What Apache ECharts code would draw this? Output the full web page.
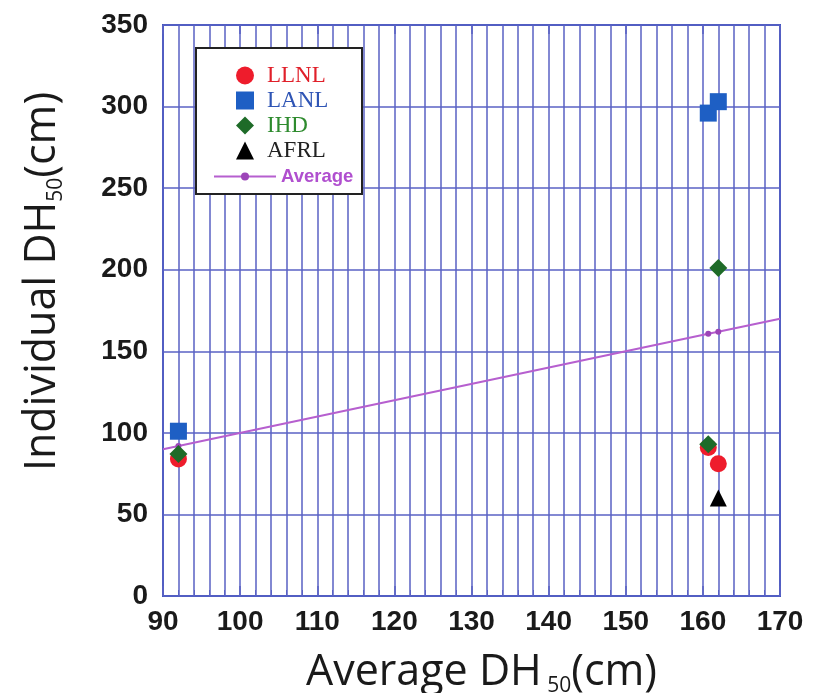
<!DOCTYPE html>
<html>
<head>
<meta charset="utf-8">
<script src="https://cdn.jsdelivr.net/npm/echarts@6/dist/echarts.min.js"></script>
<style>
html,body{margin:0;padding:0;background:#fff;}
#chart{width:817px;height:693px;}
</style>
</head>
<body>
<div id="chart"></div>
<script>
// Data
var llnlX = [92, 160.7, 162];
var llnlY = [84, 91, 81];
var lanlX = [92, 160.7, 162];
var lanlY = [101, 296, 303];
var ihdX = [92, 160.7, 162];
var ihdY = [87, 93, 201];
var afrlX = [162];
var afrlY = [60];
var avgX = [90, 92, 160.7, 162, 170];
var avgY = [90, 92, 160.7, 162, 170];
var avgMarked = [false, true, true, true, false];
var xTicks = [90, 100, 110, 120, 130, 140, 150, 160, 170];
var yTicks = [0, 50, 100, 150, 200, 250, 300, 350];

function pairs(xs, ys) { return xs.map(function (x, i) { return [x, ys[i]]; }); }

var gridColor = '#5a62c4';
var chart = echarts.init(document.getElementById('chart'));
var labelStyle = { fontFamily: 'Liberation Sans, Arial, sans-serif', fontWeight: 'bold', fontSize: 28, color: '#1a1a1a' };
var titleRich = {
  a: { fontFamily: 'Open Sans, sans-serif', fontSize: 43, color: '#1a1a1a' },
  b: { fontFamily: 'Open Sans, sans-serif', fontSize: 21, color: '#1a1a1a', verticalAlign: 'bottom', padding: [28, 0, 0, 0] }
};

var option = {
  backgroundColor: '#ffffff',
  animation: false,
  grid: { left: 163, right: 37, top: 25, bottom: 97, containLabel: false, outerBoundsMode: 'none', show: true, borderColor: '#3f56c0', borderWidth: 2, backgroundColor: 'transparent' },
  xAxis: [{
    type: 'value', min: xTicks[0], max: xTicks[xTicks.length - 1], interval: 10,
    axisLine: { show: false },
    axisTick: { show: true, inside: true, length: 10, lineStyle: { color: gridColor, width: 1.5 } },
    minorTick: { show: true, splitNumber: 5, length: 6, lineStyle: { color: gridColor } },
    splitLine: { show: true, lineStyle: { color: gridColor, width: 1.5 } },
    minorSplitLine: { show: true, lineStyle: { color: gridColor, width: 1.5 } },
    axisLabel: Object.assign({ margin: 12 }, labelStyle),
    name: '{a|Average DH}{b| 50}{a|(cm)}',
    nameLocation: 'middle', nameGap: 52,
    nameTextStyle: { rich: titleRich, padding: [0, 0, 0, 20] }
  }, {
    type: 'value', position: 'top', min: xTicks[0], max: xTicks[xTicks.length - 1], interval: 10,
    axisLine: { show: false },
    axisTick: { show: true, inside: true, length: 9, lineStyle: { color: gridColor, width: 1.5 } },
    axisLabel: { show: false },
    splitLine: { show: false }
  }],
  yAxis: {
    type: 'value', min: yTicks[0], max: yTicks[yTicks.length - 1], interval: 50,
    axisLine: { show: false },
    axisTick: { show: false },
    splitLine: { show: true, lineStyle: { color: gridColor, width: 1.5 } },
    axisLabel: Object.assign({ margin: 15 }, labelStyle),
    name: '{a|Individual DH}{b|50}{a|(cm)}',
    nameLocation: 'middle', nameGap: 96, nameRotate: 90,
    nameTextStyle: { rich: titleRich, padding: [0, 0, 0, 58] }
  },
  graphic: [{
    type: 'rect', left: 195, top: 47, z: 90,
    shape: { width: 166, height: 146 },
    style: { fill: '#ffffff', stroke: '#222222', lineWidth: 2 }
  }],
  legend: [{
    orient: 'vertical', left: 231, top: 59, z: 100,
    itemWidth: 18, itemHeight: 18, itemGap: 2,
    data: [
      { name: 'LLNL', textStyle: { color: '#e0202a' } },
      { name: 'LANL', textStyle: { color: '#2f55b5' } },
      { name: 'IHD', textStyle: { color: '#2e8b2e' } },
      { name: 'AFRL', textStyle: { color: '#222222' } }
    ],
    textStyle: { fontFamily: 'Liberation Serif, Times New Roman, serif', fontSize: 23, padding: [0, 0, 0, 8] }
  }, {
    orient: 'vertical', left: 208, top: 162, z: 100,
    itemWidth: 62, itemHeight: 10,
    data: [{ name: 'Average', textStyle: { color: '#b04fcf' } }],
    textStyle: { fontFamily: 'Liberation Sans, Arial, sans-serif', fontSize: 18.5, fontWeight: 'bold' }
  }],
  series: [
    {
      name: 'Average', type: 'line', z: 3,
      data: avgX.map(function (x, i) { return { value: [x, avgY[i]], symbolSize: avgMarked[i] ? 6 : 0 }; }),
      symbol: 'circle', showSymbol: true,
      lineStyle: { color: '#b65fcf', width: 2 },
      itemStyle: { color: '#9c45b8' }
    },
    { name: 'LLNL', type: 'scatter', symbol: 'circle', symbolSize: 17, z: 4, itemStyle: { color: '#ee1c2c', opacity: 1 }, data: pairs(llnlX, llnlY) },
    { name: 'LANL', type: 'scatter', symbol: 'rect', symbolSize: 17, z: 5, itemStyle: { color: '#1e5fc4', opacity: 1 }, data: pairs(lanlX, lanlY) },
    { name: 'IHD', type: 'scatter', symbol: 'diamond', symbolSize: 18, z: 6, itemStyle: { color: '#1e6b28', opacity: 1 }, data: pairs(ihdX, ihdY) },
    { name: 'AFRL', type: 'scatter', symbol: 'triangle', symbolSize: 17, z: 6, itemStyle: { color: '#000000', opacity: 1 }, data: pairs(afrlX, afrlY) }
  ]
};
chart.setOption(option);
</script>
</body>
</html>
